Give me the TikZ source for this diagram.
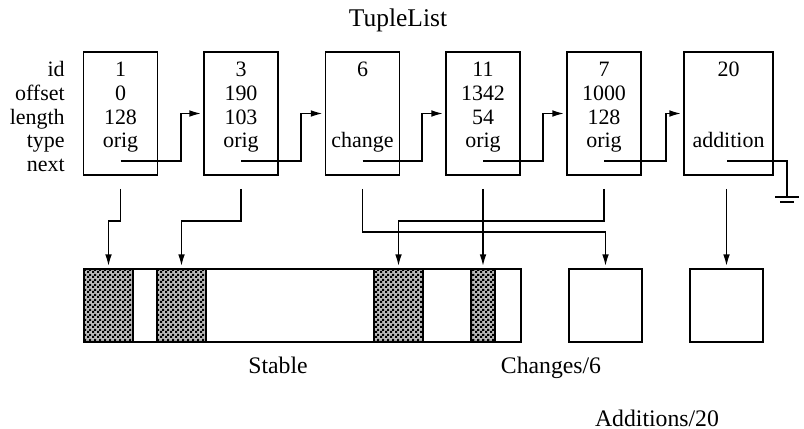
\documentclass[tikz,border=0pt]{standalone}
\usepackage{fontspec}
\setmainfont{Liberation Serif}
\usetikzlibrary{arrows.meta,calc,positioning,patterns}
% fine checker used for the occupied parts of the stable store
\pgfdeclarepatternformonly{checker}{\pgfpointorigin}{\pgfpoint{2.6pt}{2.6pt}}{\pgfpoint{2.6pt}{2.6pt}}{
  \pgfpathrectangle{\pgfpointorigin}{\pgfpoint{1.3pt}{1.3pt}}
  \pgfpathrectangle{\pgfpoint{1.3pt}{1.3pt}}{\pgfpoint{1.3pt}{1.3pt}}
  \pgfusepath{fill}
}
\tikzset{
  link/.style     = {line width=1.1pt},
  ptr/.style      = {line width=1.1pt, -{Latex[length=7pt,width=3.8pt]}, shorten >=0.8pt},
  tuple/.style    = {draw, line width=1.1pt, minimum width=1.48cm, minimum height=2.46cm, inner sep=0pt},
  rowlabel/.style = {anchor=base east, inner sep=0pt, font=\fontsize{12.5}{14}\selectfont},
  field/.style    = {anchor=base, inner sep=0pt, font=\fontsize{12.5}{14}\selectfont},
  store/.style    = {draw, line width=1.1pt, minimum height=1.46cm, inner sep=0pt},
  used/.style     = {store, fill=gray!55, postaction={pattern=checker, pattern color=black}},
  caption/.style  = {anchor=base, inner sep=0pt, font=\fontsize{13.5}{16}\selectfont},
}

\begin{document}
\begin{tikzpicture}[x=0.02cm, y=-0.02cm]
  \useasboundingbox (0,0) rectangle (804,429);

  \node[caption, font=\fontsize{14.5}{17}\selectfont] (title) at (398,27) {TupleList};

  % field names
  \node[rowlabel] (lid)   at (65,76.5)  {id};
  \node[rowlabel] (loff)  at (65,100.3) {offset};
  \node[rowlabel] (llen)  at (65,124.1) {length};
  \node[rowlabel] (ltype) at (65,147.9) {type};
  \node[rowlabel] (lnext) at (65,171.7) {next};

  % the tuples
  \node[tuple] (t1) at (120.5,113.5) {};
  \node[tuple] (t2) at (241,113.5)   {};
  \node[tuple] (t3) at (362.5,113.5) {};
  \node[tuple] (t4) at (483,113.5)   {};
  \node[tuple] (t5) at (604,113.5)   {};
  \node[tuple, minimum width=1.78cm] (t6) at (728.5,113.5) {};

  \node[field] (t1id)   at (t1 |- lid.base)   {1};
  \node[field] (t1off)  at (t1 |- loff.base)  {0};
  \node[field] (t1len)  at (t1 |- llen.base)  {128};
  \node[field] (t1type) at (t1 |- ltype.base) {orig};

  \node[field] (t2id)   at (t2 |- lid.base)   {3};
  \node[field] (t2off)  at (t2 |- loff.base)  {190};
  \node[field] (t2len)  at (t2 |- llen.base)  {103};
  \node[field] (t2type) at (t2 |- ltype.base) {orig};

  \node[field] (t3id)   at (t3 |- lid.base)   {6};
  \node[field] (t3type) at (t3 |- ltype.base) {change};

  \node[field] (t4id)   at (t4 |- lid.base)   {11};
  \node[field] (t4off)  at (t4 |- loff.base)  {1342};
  \node[field] (t4len)  at (t4 |- llen.base)  {54};
  \node[field] (t4type) at (t4 |- ltype.base) {orig};

  \node[field] (t5id)   at (t5 |- lid.base)   {7};
  \node[field] (t5off)  at (t5 |- loff.base)  {1000};
  \node[field] (t5len)  at (t5 |- llen.base)  {128};
  \node[field] (t5type) at (t5 |- ltype.base) {orig};

  \node[field] (t6id)   at (t6 |- lid.base)   {20};
  \node[field] (t6type) at (t6 |- ltype.base) {addition};

  % next pointers
  \coordinate (n1) at ($(t1)+(0,47.5)$);
  \coordinate (n2) at ($(t2)+(0,47.5)$);
  \coordinate (n3) at ($(t3)+(0,47.5)$);
  \coordinate (n4) at ($(t4)+(0,47.5)$);
  \coordinate (n5) at ($(t5)+(0,47.5)$);
  \coordinate (n6) at ($(t6)+(-1.5,47.5)$);
  \draw[ptr] (n1) -| ($(t2.west)+(-22,0)$) -- (t2.west);
  \draw[ptr] (n2) -| ($(t3.west)+(-23.5,0)$) -- (t3.west);
  \draw[ptr] (n3) -| ($(t4.west)+(-23,0)$) -- (t4.west);
  \draw[ptr] (n4) -| ($(t5.west)+(-23,0)$) -- (t5.west);
  \draw[ptr] (n5) -| ($(t6.west)+(-17,0)$) -- (t6.west);

  % end of list
  \coordinate (gnd) at (787,197);
  \draw[link] (n6) -| (gnd);
  \draw[link] ($(gnd)+(-12,0)$) -- ($(gnd)+(12,0)$);
  \draw[line width=1.1pt] ($(gnd)+(-7,5)$) -- ($(gnd)+(7,5)$);

  % stores
  \node[store, minimum width=8.74cm] (stable) at (302.5,305.5) {};
  \node[used, minimum width=0.98cm] (s1) at (108.5,305.5) {};
  \node[used, minimum width=0.98cm] (s2) at (181.5,305.5) {};
  \node[used, minimum width=0.98cm] (s3) at (398.5,305.5) {};
  \node[used, minimum width=0.48cm] (s4) at (483,305.5)   {};
  \node[store, minimum width=1.46cm] (chg) at (605.5,305.5) {};
  \node[store, minimum width=1.46cm] (add) at (726.5,305.5) {};

  \node[caption] (stablelbl) at (278,373) {Stable};
  \node[caption] (chglbl)    at (551,373) {Changes/6};
  \node[caption] (addlbl)    at (657,426) {Additions/20};

  % tuple to data pointers
  \coordinate (d1) at ($(t1.south)+(0,13)$);
  \coordinate (d2) at ($(t2.south)+(0,13)$);
  \coordinate (d3) at ($(t3.south)+(0,13)$);
  \coordinate (d4) at ($(t4.south)+(0,13)$);
  \coordinate (d5) at ($(t5.south)+(0,13)$);
  \coordinate (d6) at (add.north |- d1);
  \draw[ptr] (d1) |- ($(s1.north)+(0,-47)$) -- (s1.north);
  \draw[ptr] (d2) |- ($(s2.north)+(0,-47)$) -- (s2.north);
  \draw[ptr] (d3) |- ($(chg.north)+(0,-36)$) -- (chg.north);
  \draw[ptr] (d5) |- ($(s3.north)+(0,-47)$) -- (s3.north);
  \draw[ptr] (d4) -- (s4.north);
  \draw[ptr] (d6) -- (add.north);
\end{tikzpicture}
\end{document}
